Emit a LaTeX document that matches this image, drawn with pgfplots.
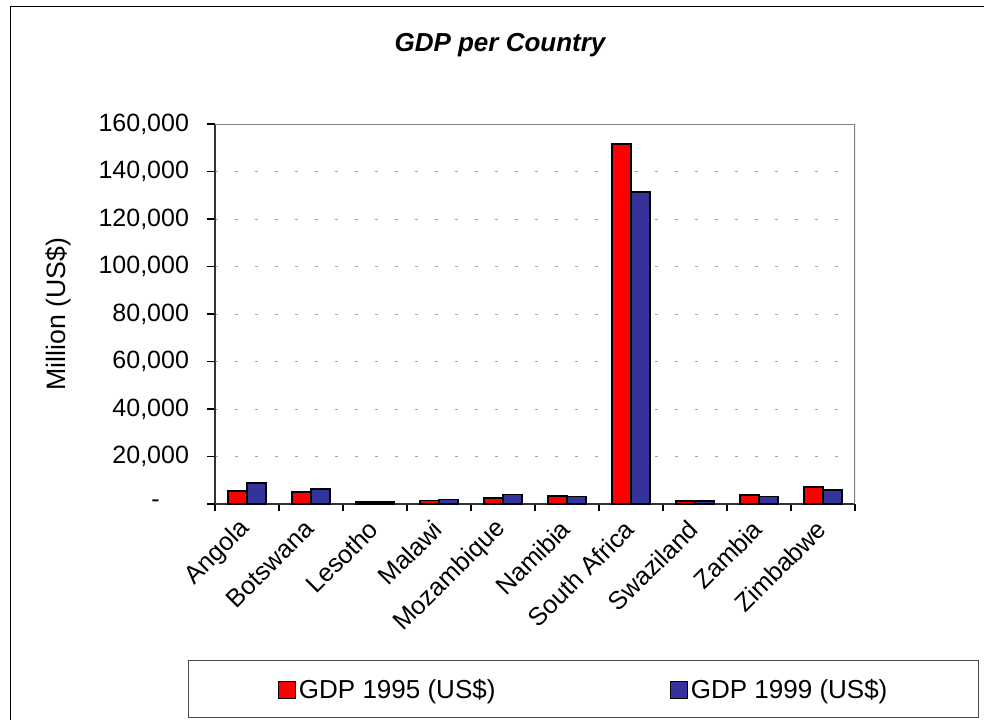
\documentclass[border=0pt]{standalone}
\usepackage{fontspec}
\setmainfont{Liberation Sans}
\usepackage{pgfplots}
\pgfplotsset{compat=1.18}
\definecolor{gdpred}{RGB}{255,0,0}
\definecolor{gdpblue}{RGB}{51,51,153}
\definecolor{framegray}{RGB}{128,128,128}

% GDP, million US$ (x = country index)
\pgfplotstableread{
x   gdp95   gdp99
0   5500    8800
1   5000    6300
2   900     850
3   1500    1900
4   2500    4100
5   3400    3100
6   151600  131400
7   1300    1300
8   3700    3200
9   7200    5900
}\gdptable

\begin{document}
\begin{tikzpicture}
\useasboundingbox (0,0) rectangle (738pt,539.25pt);
% chart area frame (only left and top edges fall inside the picture)
\draw[black, line width=0.75pt] (7.5pt,-2pt) -- (7.5pt,534pt) -- (745pt,534pt);
\node[font=\fontsize{19.5}{23}\selectfont\bfseries\itshape] at (375pt,505.5pt) {GDP per Country};
\node[rotate=90, font=\fontsize{20}{24}\selectfont] at (43.5pt,303.75pt) {Million (US\$)};
\draw[line width=0.75pt, black!70] (141pt,1.5pt) rectangle (733.5pt,44.25pt);
\begin{axis}[
    at={(161.25pt,161.25pt)}, anchor=south west,
    scale only axis, width=480pt, height=285pt,
    xmin=-0.5, xmax=9.5, ymin=0, ymax=160000,
    scaled y ticks=false,
    ybar=0pt, bar width=14.25pt,
    axis x line*=bottom, axis y line*=left,
    axis line style={black!80, line width=1pt},
    tick align=outside,
    major tick length=6pt, minor tick length=5.25pt,
    tick style={black, line width=0.8pt},
    xtick={0,...,9},
    xticklabels={Angola,Botswana,Lesotho,Malawi,Mozambique,Namibia,South Africa,Swaziland,Zambia,Zimbabwe},
    major x tick style={draw=none},
    minor xtick={-0.5,0.5,1.5,2.5,3.5,4.5,5.5,6.5,7.5,8.5,9.5},
    xticklabel style={rotate=45, anchor=east, xshift=-4pt, yshift=-6pt,
        font=\fontsize{19}{22}\selectfont},
    ytick={0,20000,40000,60000,80000,100000,120000,140000,160000},
    yticklabels={{-\hspace*{22pt}},{20,000},{40,000},{60,000},{80,000},{100,000},{120,000},{140,000},{160,000}},
    yticklabel style={font=\fontsize{18.75}{22}\selectfont, xshift=-10pt},
    ymajorgrids,
    major grid style={black!35, dash pattern=on 2.25pt off 12.75pt, line width=0.75pt},
    every axis plot/.append style={draw=black, line width=1.1pt},
    legend columns=2,
    legend style={draw=none, fill=none, inner sep=0pt,
        at={(axis description cs:0.0984,-0.4895)}, anchor=west,
        font=\fontsize{19.5}{23}\selectfont,
        /tikz/every even column/.append style={column sep=129pt}},
    legend image code/.code={\draw[#1, line width=0.8pt] (0pt,-6.4pt) rectangle (12.75pt,6.4pt);},
]
\addplot[fill=gdpred] table[x=x, y=gdp95] {\gdptable};
\addplot[fill=gdpblue] table[x=x, y=gdp99] {\gdptable};
\draw[framegray, line width=1.5pt] (rel axis cs:0,1) -- (rel axis cs:1,1) -- (rel axis cs:1,0);
\legend{GDP 1995 (US\$), GDP 1999 (US\$)}
\end{axis}
\end{tikzpicture}
\end{document}
